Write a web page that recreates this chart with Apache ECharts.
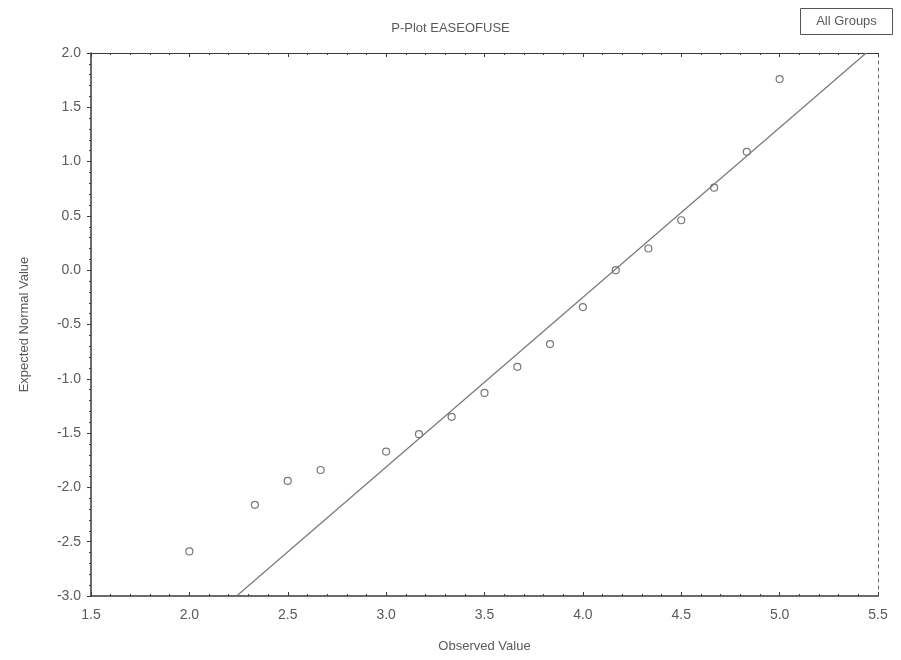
<!DOCTYPE html>
<html>
<head>
<meta charset="utf-8">
<title>P-Plot EASEOFUSE</title>
<script src="https://cdn.jsdelivr.net/npm/echarts@6/dist/echarts.min.js"></script>
<style>
  html, body { margin: 0; padding: 0; background: #ffffff; }
  #chart { width: 901px; height: 660px; }
</style>
</head>
<body>
<div id="chart"></div>
<script>
// Observed scale means and their expected normal scores
const observed = [2.0, 2.333, 2.5, 2.667, 3.0, 3.167, 3.333, 3.5, 3.667, 3.833, 4.0, 4.167, 4.333, 4.5, 4.667, 4.833, 5.0];
const expected = [-2.59, -2.16, -1.94, -1.84, -1.67, -1.51, -1.35, -1.13, -0.89, -0.68, -0.34, 0.00, 0.20, 0.46, 0.76, 1.09, 1.76];

// Reference line endpoints (observed, expected)
const refLineX = [2.24, 5.44];
const refLineY = [-3.0, 2.0];

const xTicks = { min: 1.5, max: 5.5, step: 0.5 };
const yTicks = { min: -3.0, max: 2.0, step: 0.5 };

const textColor = '#5a5a5a';
const axisColor = '#3a3a3a';
const fontFamily = 'Liberation Sans, Arial, sans-serif';

const chart = echarts.init(document.getElementById('chart'));

const baseX = {
  type: 'value', min: xTicks.min, max: xTicks.max, interval: xTicks.step
};
const baseY = {
  type: 'value', min: yTicks.min, max: yTicks.max, interval: yTicks.step
};

chart.setOption({
  backgroundColor: '#ffffff',
  animation: false,
  title: {
    text: 'P-Plot EASEOFUSE',
    left: 'center',
    top: 17,
    textStyle: { color: textColor, fontSize: 13, fontWeight: 'normal', fontFamily: fontFamily }
  },
  graphic: [{
    type: 'group',
    right: 8,
    top: 8,
    children: [
      { type: 'rect', shape: { x: 0, y: 0, width: 92, height: 26 },
        style: { fill: '#ffffff', stroke: '#555', lineWidth: 1 } },
      { type: 'text', x: 46, y: 13,
        style: { text: 'All Groups', fill: textColor, fontSize: 13, fontFamily: fontFamily,
                 align: 'center', verticalAlign: 'middle' } }
    ]
  }],
  grid: { left: 91, right: 23, top: 53, bottom: 64 },
  xAxis: [
    Object.assign({}, baseX, {
      position: 'bottom',
      name: 'Observed Value',
      nameLocation: 'middle',
      nameGap: 44,
      nameTextStyle: { color: textColor, fontSize: 13, fontFamily: fontFamily },
      axisLine: { show: true, onZero: false, lineStyle: { color: axisColor, width: 1.5 } },
      axisTick: { show: true, inside: true, length: 4, lineStyle: { color: axisColor } },
      minorTick: { show: true, splitNumber: 5, length: 2, lineStyle: { color: axisColor } },
      axisLabel: { color: textColor, fontSize: 14, fontFamily: fontFamily, margin: 12,
                   formatter: v => v.toFixed(1) },
      splitLine: { show: false }
    }),
    Object.assign({}, baseX, {
      position: 'top',
      axisLine: { show: true, onZero: false, lineStyle: { color: axisColor, width: 1.2 } },
      axisTick: { show: true, inside: true, length: 4, lineStyle: { color: axisColor } },
      minorTick: { show: true, splitNumber: 5, length: 2, lineStyle: { color: axisColor } },
      axisLabel: { show: false },
      splitLine: { show: false }
    })
  ],
  yAxis: [
    Object.assign({}, baseY, {
      position: 'left',
      name: 'Expected Normal Value',
      nameLocation: 'middle',
      nameGap: 60,
      nameTextStyle: { color: textColor, fontSize: 13, fontFamily: fontFamily },
      axisLine: { show: true, onZero: false, lineStyle: { color: axisColor, width: 1.5 } },
      axisTick: { show: true, inside: false, length: 4, lineStyle: { color: axisColor } },
      minorTick: { show: true, splitNumber: 5, length: 2, lineStyle: { color: axisColor } },
      axisLabel: { color: textColor, fontSize: 14, fontFamily: fontFamily, margin: 10,
                   formatter: v => v.toFixed(1) },
      splitLine: { show: false }
    }),
    Object.assign({}, baseY, {
      position: 'right',
      axisLine: { show: true, onZero: false, lineStyle: { color: '#666', width: 1, type: [3, 4] } },
      axisTick: { show: false },
      axisLabel: { show: false },
      splitLine: { show: false }
    })
  ],
  series: [
    {
      type: 'line',
      xAxisIndex: 0, yAxisIndex: 0,
      data: refLineX.map((x, i) => [x, refLineY[i]]),
      symbol: 'none',
      lineStyle: { color: '#777', width: 1.2 },
      clip: true,
      silent: true
    },
    {
      type: 'scatter',
      xAxisIndex: 0, yAxisIndex: 0,
      data: observed.map((x, i) => [x, expected[i]]),
      symbol: 'circle',
      symbolSize: 7,
      itemStyle: { color: 'rgba(255,255,255,0)', borderColor: '#555', borderWidth: 1.2 }
    }
  ]
});
</script>
</body>
</html>
